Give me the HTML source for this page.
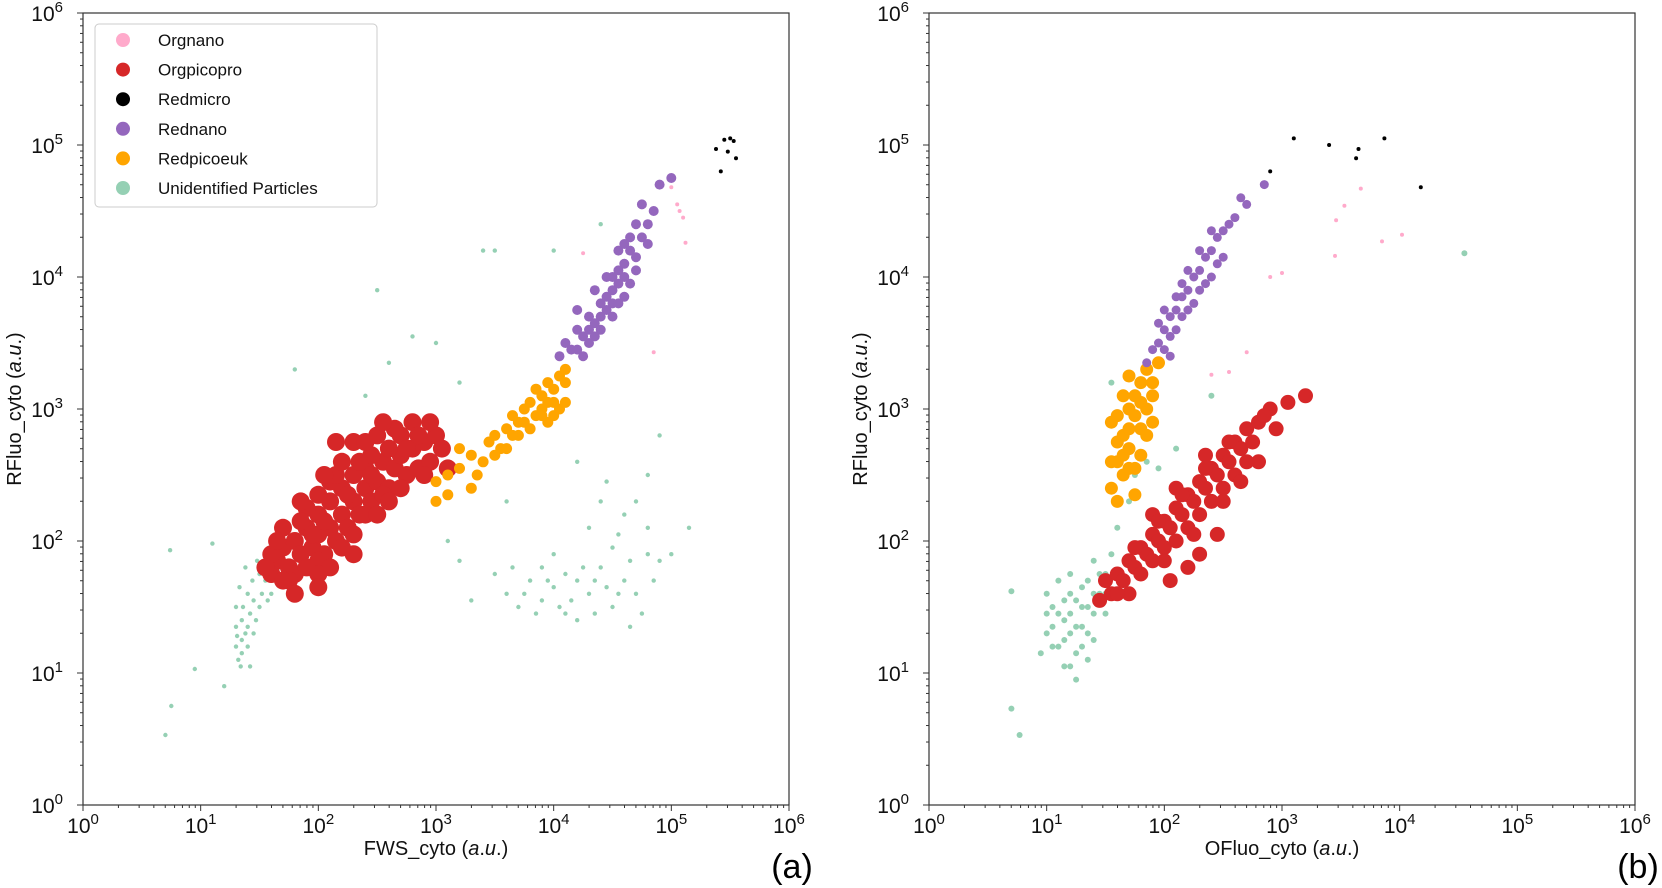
<!DOCTYPE html>
<html><head><meta charset="utf-8"><style>
body{margin:0;background:#fff;}
svg{display:block;font-family:"Liberation Sans","DejaVu Sans",sans-serif;}
</style></head><body>
<svg id="fig" width="1662" height="888" viewBox="0 0 1662 888" xmlns="http://www.w3.org/2000/svg">
<rect width="1662" height="888" fill="#fff"/>
</svg>
<script>
// data in log10 units
const redA=[[1.65,1.85],[1.7,1.95],[1.75,1.8],[1.8,2.0],[1.85,1.9],[1.9,2.1],[1.95,1.95],[2.0,2.05],[2.0,2.2],[2.05,1.9],[2.1,2.1],[2.1,2.3],[2.15,2.0],[2.2,2.2],[2.2,2.4],[2.25,2.1],[2.3,2.3],[2.3,2.5],[2.35,2.2],[2.4,2.4],[2.4,2.55],[2.45,2.3],[2.5,2.45],[2.55,2.6],[2.6,2.4],[2.65,2.55],[2.7,2.65],[2.75,2.5],[2.8,2.7],[2.9,2.75],[1.7,2.1],[1.8,1.75],[1.9,2.25],[2.0,1.85],[2.1,2.45],[2.2,1.95],[2.3,2.05],[2.4,2.2],[2.5,2.2],[2.6,2.7],[1.6,1.9],[2.0,2.35],[2.15,2.5],[2.35,2.6],[2.55,2.35],[1.85,2.15],[2.25,2.35],[2.45,2.5],[2.05,2.15],[1.95,2.05],[2.7,2.4],[2.85,2.55],[2.95,2.6],[1.75,1.7],[2.1,1.8],[2.3,2.75],[2.5,2.8],[2.7,2.8],[3.0,2.8],[1.9,1.8],[1.6,1.75],[1.65,2.0],[1.55,1.8],[1.7,1.7],[2.0,1.75],[2.45,2.65],[2.65,2.85],[2.8,2.9],[2.9,2.5],[3.05,2.7],[3.1,2.55],[2.6,2.3],[2.75,2.7],[2.85,2.8],[1.85,2.3],[2.05,2.5],[2.2,2.6],[2.4,2.75],[2.55,2.9],[2.0,1.65],[2.3,1.9],[1.8,1.6],[2.15,2.75],[2.95,2.9]];
const orangeA=[[3.0,2.45],[3.1,2.5],[3.2,2.55],[3.3,2.65],[3.4,2.6],[3.45,2.75],[3.5,2.8],[3.6,2.85],[3.65,2.95],[3.7,2.9],[3.75,3.0],[3.8,3.05],[3.85,2.95],[3.9,3.1],[3.95,3.05],[4.0,3.15],[4.05,3.0],[4.1,3.2],[3.55,2.7],[3.8,2.85],[3.9,2.95],[4.0,2.95],[3.7,2.8],[3.35,2.5],[3.1,2.35],[3.0,2.3],[4.1,3.05],[3.95,2.9],[3.85,3.15],[4.05,3.25],[3.6,2.7],[3.75,2.9],[3.9,3.0],[4.0,3.05],[3.65,2.8],[3.5,2.65],[3.3,2.4],[3.2,2.7],[3.95,3.2],[4.1,3.3]];
const purpleA=[[4.05,3.4],[4.1,3.5],[4.15,3.45],[4.2,3.6],[4.25,3.55],[4.3,3.7],[4.35,3.65],[4.4,3.8],[4.45,3.75],[4.5,3.9],[4.5,4.0],[4.55,3.95],[4.6,4.1],[4.6,3.85],[4.65,4.2],[4.7,4.15],[4.75,4.3],[4.8,4.4],[4.85,4.5],[4.2,3.75],[4.3,3.5],[4.4,3.6],[4.5,3.7],[4.45,4.0],[4.55,4.2],[4.7,4.4],[4.35,3.9],[4.65,3.95],[4.25,3.4],[4.75,4.55],[4.9,4.7],[5.0,4.75],[4.3,3.6],[4.4,3.7],[4.5,3.8],[4.6,4.0],[4.7,4.05],[4.55,3.8],[4.45,3.85],[4.65,4.3],[4.8,4.25],[4.35,3.55],[4.2,3.45],[4.55,4.05],[4.6,4.25]];
const blackA=[[5.38,4.97],[5.45,5.04],[5.5,5.05],[5.53,5.03],[5.48,4.95],[5.42,4.8],[5.55,4.9]];
const pinkA=[[5.0,4.68],[5.05,4.55],[5.1,4.45],[5.12,4.26],[4.25,4.18],[4.85,3.43],[5.07,4.5]];
const greenA=[[1.3,1.2],[1.35,1.4],[1.4,1.6],[1.32,1.1],[1.45,1.3],[1.5,1.5],[1.38,1.8],[1.55,1.7],[1.42,1.05],[1.3,1.5],[1.48,1.85],[1.6,1.6],[1.35,1.25],[1.4,1.35],[1.45,1.55],[1.33,1.65],[1.3,1.35],[1.35,1.15],[1.38,1.3],[1.42,1.45],[1.47,1.4],[1.52,1.6],[1.57,1.55],[1.31,1.28],[1.36,1.5],[1.4,1.2],[1.44,1.7],[1.34,1.05],[1.5,1.75],[1.62,1.8],[0.7,0.53],[0.75,0.75],[0.95,1.03],[1.1,1.98],[1.2,0.9],[0.74,1.93],[2.6,3.35],[2.8,3.55],[3.2,3.2],[2.4,3.1],[3.5,4.2],[4.0,4.2],[3.4,4.2],[4.4,4.4],[3.0,3.5],[1.8,3.3],[2.5,3.9],[3.6,1.6],[3.7,1.5],[3.8,1.7],[3.9,1.55],[4.0,1.65],[4.1,1.45],[4.2,1.7],[4.3,1.6],[4.4,1.8],[4.5,1.5],[4.6,1.7],[4.7,1.6],[4.8,1.9],[3.9,1.8],[4.2,1.4],[4.5,1.95],[4.6,2.2],[4.7,2.3],[4.3,2.1],[4.9,1.85],[5.0,1.9],[3.5,1.75],[3.3,1.55],[3.2,1.85],[5.15,2.1],[4.45,2.45],[4.8,2.5],[4.2,2.6],[4.9,2.8],[3.1,2.0],[3.6,2.3],[4.65,1.35],[4.05,1.5],[4.35,1.7],[4.55,1.6],[3.85,1.45],[3.75,1.6],[3.95,1.7],[4.15,1.55],[4.25,1.8],[4.45,1.65],[4.65,1.85],[4.75,1.45],[4.85,1.7],[4.0,1.9],[4.35,1.45],[4.55,2.05],[4.1,1.75],[3.65,1.8],[4.8,2.1],[4.4,2.3]];
const redB=[[1.45,1.55],[1.5,1.7],[1.55,1.6],[1.6,1.75],[1.65,1.7],[1.7,1.85],[1.75,1.8],[1.8,1.95],[1.85,1.9],[1.9,2.05],[1.95,2.0],[2.0,2.15],[2.05,2.1],[2.1,2.25],[2.15,2.2],[2.2,2.35],[2.25,2.3],[2.3,2.45],[2.35,2.4],[2.4,2.55],[2.45,2.5],[2.5,2.65],[2.55,2.6],[2.6,2.75],[2.65,2.7],[2.7,2.85],[2.8,2.9],[2.9,3.0],[3.05,3.05],[3.2,3.1],[1.9,1.85],[2.0,1.95],[2.1,2.0],[2.2,2.1],[2.3,2.2],[2.4,2.3],[2.5,2.4],[2.6,2.5],[1.8,1.75],[1.7,1.6],[2.05,1.7],[2.3,1.9],[2.45,2.05],[2.2,1.8],[2.8,2.6],[2.65,2.45],[1.9,2.2],[2.1,2.4],[2.35,2.65],[1.75,1.95],[1.95,2.15],[2.15,2.35],[2.35,2.55],[2.55,2.75],[2.75,2.75],[2.0,1.85],[2.25,2.05],[2.5,2.3],[2.7,2.6],[1.6,1.6],[2.85,2.95],[2.95,2.85]];
const orangeB=[[1.55,2.4],[1.6,2.6],[1.65,2.8],[1.6,2.95],[1.7,3.0],[1.75,3.1],[1.8,3.2],[1.85,3.0],[1.7,2.7],[1.8,2.85],[1.65,2.5],[1.75,2.55],[1.9,3.1],[1.55,2.9],[1.7,3.25],[1.85,3.3],[1.6,2.3],[1.75,2.35],[1.95,3.35],[1.8,2.65],[1.65,3.1],[1.9,2.9],[1.6,2.75],[1.7,2.85],[1.75,2.95],[1.8,3.05],[1.65,2.65],[1.85,2.8],[1.55,2.6],[1.7,2.55],[1.9,3.2]];
const purpleB=[[1.85,3.35],[1.9,3.45],[1.95,3.5],[2.0,3.6],[2.05,3.7],[2.1,3.75],[2.15,3.85],[2.2,3.9],[2.25,4.0],[2.3,4.05],[2.35,4.15],[2.4,4.2],[2.45,4.3],[2.5,4.35],[2.55,4.4],[2.6,4.45],[2.7,4.55],[2.85,4.7],[2.0,3.45],[2.1,3.6],[2.2,3.75],[2.3,3.9],[2.4,4.0],[2.15,3.95],[2.25,3.8],[2.35,3.95],[1.95,3.65],[2.5,4.15],[2.65,4.6],[2.05,3.4],[2.0,3.75],[2.1,3.85],[2.2,4.05],[2.3,4.2],[2.4,4.35],[2.45,4.1],[2.15,3.7],[2.05,3.55]];
const blackB=[[2.9,4.8],[3.1,5.05],[3.4,5.0],[3.65,4.97],[3.63,4.9],[3.87,5.05],[4.18,4.68]];
const pinkB=[[2.9,4.0],[3.0,4.03],[3.46,4.43],[3.53,4.54],[3.67,4.67],[3.45,4.16],[3.85,4.27],[4.02,4.32],[2.7,3.43],[2.4,3.26],[2.55,3.28]];
const greenB=[[1.0,1.3],[1.05,1.5],[1.1,1.2],[1.15,1.4],[1.2,1.6],[1.25,1.35],[1.3,1.5],[1.35,1.7],[1.4,1.45],[1.45,1.6],[1.2,1.05],[1.3,1.2],[1.4,1.85],[1.5,1.75],[1.55,1.9],[1.1,1.7],[1.25,0.95],[1.35,1.1],[0.95,1.15],[1.5,1.45],[1.6,2.1],[1.7,2.3],[1.75,2.5],[1.85,2.6],[1.95,2.55],[2.1,2.7],[0.7,0.73],[0.77,0.53],[0.7,1.62],[4.55,4.18],[2.4,3.1],[1.55,3.2],[1.15,1.55],[1.0,1.45],[1.2,1.3],[1.05,1.35],[1.1,1.45],[1.15,1.25],[1.2,1.45],[1.25,1.55],[1.3,1.35],[1.35,1.5],[1.4,1.6],[1.45,1.75],[1.25,1.15],[1.3,1.65],[1.15,1.05],[1.05,1.2],[1.35,1.3],[1.4,1.25],[1.5,1.6],[1.2,1.75],[1.0,1.6]];
const tickLabels=["0","1","2","3","4","5","6"];
const legendNames=["Orgnano","Orgpicopro","Redmicro","Rednano","Redpicoeuk","Unidentified Particles"];
const legendColors=["#ffaacb","#d62728","#000000","#9467bd","#ffa500","#95d0b4"];

const NS="http://www.w3.org/2000/svg";
const svg=document.getElementById('fig');
function mk(tag,attrs,parent){const e=document.createElementNS(NS,tag);for(const k in attrs)e.setAttribute(k,attrs[k]);(parent||svg).appendChild(e);return e;}
const TOP=13,BOT=805;
function yS(v){return BOT-(v/6)*(BOT-TOP);}
function panel(x0,x1,sets,xlabel,tag,name){
  const g=mk('g',{});
  
  
  const xS=v=>x0+(v/6)*(x1-x0);
  sets.forEach(s=>{
    const sg=mk('g',{fill:s.c},g);
    
    
    s.d.forEach(p=>{const c=mk('circle',{cx:xS(p[0]).toFixed(1),cy:yS(p[1]).toFixed(1),r:s.r},sg);
      
      });
  });
  const fr=mk('rect',{x:x0,y:TOP,width:x1-x0,height:BOT-TOP,fill:'none',stroke:'#333','stroke-width':1.2},g);
  
  
  for(let d=0;d<=6;d++){
    const px=xS(d),py=yS(d);
    mk('line',{x1:px,x2:px,y1:BOT,y2:BOT+6,stroke:'#333'},g);
    mk('line',{x1:x0,x2:x0-6,y1:py,y2:py,stroke:'#333'},g);
    if(d<6)for(let m=2;m<10;m++){const lx=xS(d+Math.log10(m)),ly=yS(d+Math.log10(m));
      mk('line',{x1:lx,x2:lx,y1:BOT,y2:BOT+3,stroke:'#333'},g);
      mk('line',{x1:x0,x2:x0-3,y1:ly,y2:ly,stroke:'#333'},g);}
    const tx=mk('text',{x:px,y:BOT+28,'font-size':21,'text-anchor':'middle',fill:'#111'},g);
    
    
    tx.innerHTML='10<tspan dy="-9" font-size="15">'+tickLabels[d]+'</tspan>';
    const ty=mk('text',{x:x0-20,y:py+8,'font-size':21,'text-anchor':'end',fill:'#111'},g);
    
    
    ty.innerHTML='10<tspan dy="-9" font-size="15">'+tickLabels[d]+'</tspan>';
  }
  const xl=mk('text',{x:(x0+x1)/2,y:855,'font-size':20,'text-anchor':'middle',fill:'#111'},g);
  
  
  xl.innerHTML=xlabel+' (<tspan font-style="italic">a</tspan>.<tspan font-style="italic">u</tspan>.)';
  const yl=mk('text',{x:0,y:0,'font-size':20,'text-anchor':'middle',fill:'#111',transform:'translate('+(x0-62)+','+((TOP+BOT)/2)+') rotate(-90)'},g);
  
  
  yl.innerHTML='RFluo_cyto (<tspan font-style="italic">a</tspan>.<tspan font-style="italic">u</tspan>.)';
  const pl=mk('text',{x:x1+3,y:878,'font-size':34,'text-anchor':'middle',fill:'#000'},g);
  
  
  pl.textContent=tag;
}
panel(83,789,[
 {n:'unidentified-series',c:legendColors[5],d:greenA,r:2.2},
 {n:'orgpicopro-series',c:legendColors[1],d:redA,r:9},
 {n:'redpicoeuk-series',c:legendColors[4],d:orangeA,r:5.5},
 {n:'rednano-series',c:legendColors[3],d:purpleA,r:5},
 {n:'orgnano-series',c:legendColors[0],d:pinkA,r:2},
 {n:'redmicro-series',c:legendColors[2],d:blackA,r:2}],'FWS_cyto','(a)','panel-a');
panel(929,1635,[
 {n:'unidentified-series',c:legendColors[5],d:greenB,r:3},
 {n:'orgpicopro-series',c:legendColors[1],d:redB,r:7.5},
 {n:'redpicoeuk-series',c:legendColors[4],d:orangeB,r:6.5},
 {n:'rednano-series',c:legendColors[3],d:purpleB,r:4.5},
 {n:'orgnano-series',c:legendColors[0],d:pinkB,r:2},
 {n:'redmicro-series',c:legendColors[2],d:blackB,r:2}],'OFluo_cyto','(b)','panel-b');
// legend
const lg=mk('g',{});


const lb=mk('rect',{x:95,y:24,width:282,height:183,rx:4,fill:'#fff','fill-opacity':0.85,stroke:'#ccc'},lg);


legendNames.forEach((n,i)=>{
  const yy=40+i*29.6;
  const e=mk('g',{},lg);
  
  
  mk('circle',{cx:123,cy:yy,r:7,fill:legendColors[i]},e);
  const t=mk('text',{x:158,y:yy+6,'font-size':17,fill:'#111'},e);
  t.textContent=n;
});
</script>
</body></html>
